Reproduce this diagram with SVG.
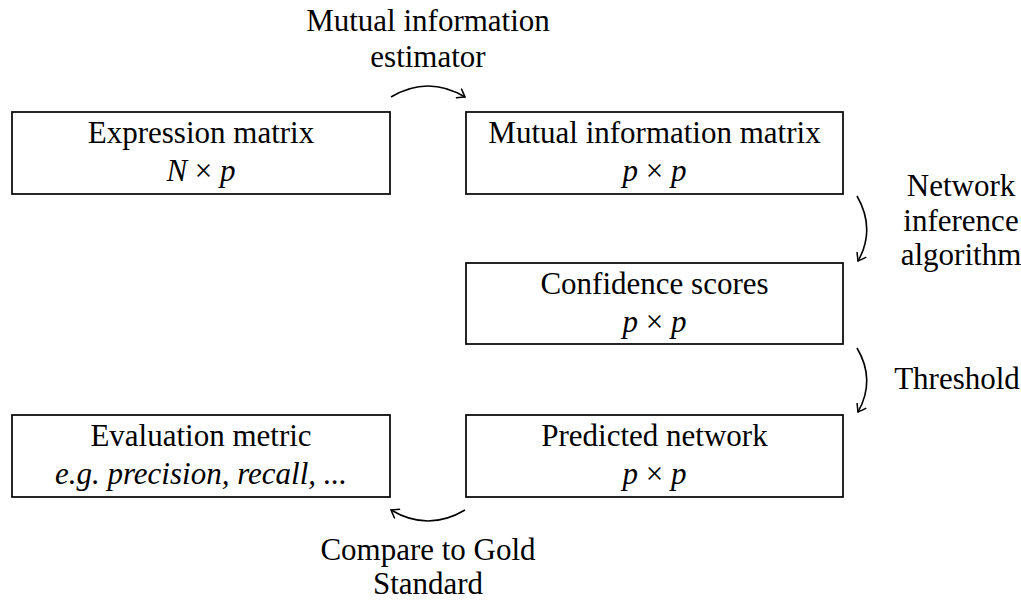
<svg xmlns="http://www.w3.org/2000/svg" width="1021" height="602" viewBox="0 0 1021 602">
<defs>
<style>
.t{font-family:'Liberation Serif',serif;font-size:31px;fill:#000;text-anchor:middle}
.box{fill:#fff;stroke:#000;stroke-width:1.7}
.it{font-style:italic}
.conn path{fill:none;stroke:#000;stroke-width:1.6}
</style>
<marker id="ah" viewBox="-8 -6 10 12" markerWidth="10" markerHeight="12" refX="0" refY="0" orient="auto" markerUnits="userSpaceOnUse">
<path d="M -7,-5 Q -2,-1.5 0,0 Q -2,1.5 -7,5" fill="none" stroke="#000" stroke-width="1.5" stroke-linecap="round"/>
</marker>
</defs>
<rect width="1021" height="602" fill="#fff"/>
<g id="expr">
<rect class="box" x="12" y="112" width="378" height="82"/>
<text class="t" x="201" y="143">Expression matrix</text>
<text class="t" x="201" y="181"><tspan class="it">N</tspan> × <tspan class="it">p</tspan></text>
</g>
<g id="mim">
<rect class="box" x="466" y="112" width="377" height="82"/>
<text class="t" x="654.5" y="143">Mutual information matrix</text>
<text class="t" x="654.5" y="181"><tspan class="it">p</tspan> × <tspan class="it">p</tspan></text>
</g>
<g id="conf">
<rect class="box" x="466" y="263" width="377" height="81"/>
<text class="t" x="654.5" y="294">Confidence scores</text>
<text class="t" x="654.5" y="332"><tspan class="it">p</tspan> × <tspan class="it">p</tspan></text>
</g>
<g id="pred">
<rect class="box" x="466" y="415" width="377" height="82"/>
<text class="t" x="654.5" y="446">Predicted network</text>
<text class="t" x="654.5" y="484"><tspan class="it">p</tspan> × <tspan class="it">p</tspan></text>
</g>
<g id="eval">
<rect class="box" x="12" y="415" width="378" height="82"/>
<text class="t" x="201" y="446">Evaluation metric</text>
<text class="t it" x="201" y="484">e.g. precision, recall, ...</text>
</g>
<g class="conn" id="connectors">
<path d="M 391 97 Q 428 75 465 97" marker-end="url(#ah)"/>
<path d="M 857 196 Q 876 229 858 261" marker-end="url(#ah)"/>
<path d="M 857 348 Q 876 380 858 412" marker-end="url(#ah)"/>
<path d="M 465 510 Q 428 532 391 510" marker-end="url(#ah)"/>
</g>
<g id="labels">
<text class="t" x="428" y="31">Mutual information</text>
<text class="t" x="428" y="67">estimator</text>
<text class="t" x="961" y="196">Network</text>
<text class="t" x="961" y="231">inference</text>
<text class="t" x="961" y="265">algorithm</text>
<text class="t" x="957" y="389">Threshold</text>
<text class="t" x="428" y="560">Compare to Gold</text>
<text class="t" x="428" y="594">Standard</text>
</g>
</svg>
